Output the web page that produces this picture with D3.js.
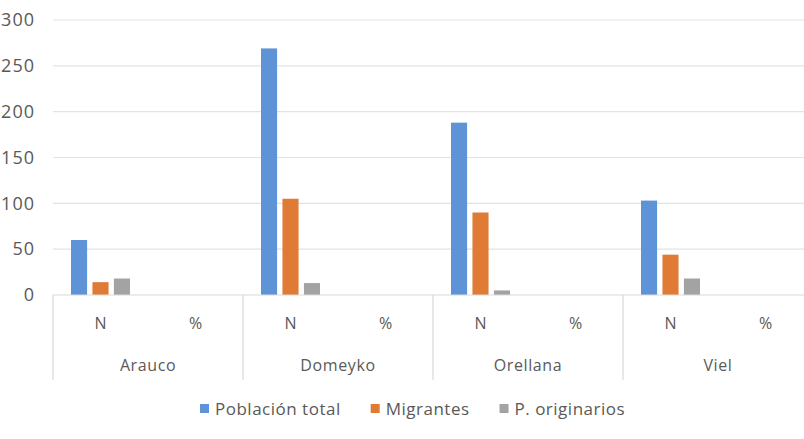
<!DOCTYPE html>
<html>
<head>
<meta charset="utf-8">
<script src="https://cdn.jsdelivr.net/npm/d3@7"></script>
<style>
  body { margin: 0; background: #fff; }
  svg text { font-family: "Open Sans", sans-serif; fill: #595959; }
</style>
</head>
<body>
<svg id="chart" width="804" height="439"></svg>
<script>
// Data
var comunas = ['Arauco', 'Domeyko', 'Orellana', 'Viel'];
var medidas = ['N', '%'];
var series = ['Población total', 'Migrantes', 'P. originarios'];
var colores = ['#5f93d8', '#e07b35', '#a3a3a3'];
var poblacionN = [60, 269, 188, 103];
var migrantesN = [14, 105, 90, 44];
var originariosN = [18, 13, 5, 18];
var yTicks = [0, 50, 100, 150, 200, 250, 300];

var svg = d3.select('#chart');
var plotLeft = 53, plotRight = 813, plotTop = 20, plotBottom = 295;

// one row per comuna / medida; % values are not visible in the chart
var rows = [];
comunas.forEach(function (c, i) {
  medidas.forEach(function (m) {
    rows.push({
      comuna: c,
      medida: m,
      key: c + '|' + m,
      values: m === 'N' ? [poblacionN[i], migrantesN[i], originariosN[i]] : [null, null, null]
    });
  });
});

var y = d3.scaleLinear().domain([0, 300]).range([plotBottom, plotTop]);
var x0 = d3.scaleBand().domain(comunas).range([plotLeft, plotRight]);
var x1 = d3.scaleBand().domain(rows.map(function (r) { return r.key; })).range([plotLeft, plotRight]);
var x2 = d3.scaleBand().domain(series).range([18, x1.bandwidth() - 18]).paddingInner(0.25);

// gridlines
svg.append('g').selectAll('line')
  .data(yTicks.filter(function (t) { return t > 0; }))
  .enter().append('line')
  .attr('x1', plotLeft).attr('x2', plotRight)
  .attr('y1', function (d) { return y(d); }).attr('y2', function (d) { return y(d); })
  .attr('stroke', '#e3e3e3').attr('stroke-width', 1.2);

// y labels (the picture is cropped on the left, hundreds digit cut)
svg.append('g').selectAll('text')
  .data(yTicks)
  .enter().append('text')
  .attr('x', 35)
  .attr('y', function (d) { return y(d); })
  .attr('dy', '0.35em')
  .attr('text-anchor', 'end')
  .style('font-size', '18px')
  .style('letter-spacing', '1px')
  .text(function (d) { return d; });

// bars
var grupos = svg.append('g').selectAll('g')
  .data(rows)
  .enter().append('g')
  .attr('transform', function (d) { return 'translate(' + x1(d.key) + ',0)'; });

grupos.selectAll('rect')
  .data(function (d) {
    return d.values.map(function (v, i) { return { serie: series[i], value: v, color: colores[i] }; })
      .filter(function (e) { return e.value != null; });
  })
  .enter().append('rect')
  .attr('x', function (d) { return x2(d.serie); })
  .attr('width', x2.bandwidth())
  .attr('y', function (d) { return y(d.value); })
  .attr('height', function (d) { return y(0) - y(d.value); })
  .attr('fill', function (d) { return d.color; });

// axis baseline and category dividers
svg.append('line')
  .attr('x1', plotLeft).attr('x2', plotRight).attr('y1', plotBottom).attr('y2', plotBottom)
  .attr('stroke', '#d9d9d9').attr('stroke-width', 1.2);

svg.append('g').selectAll('line')
  .data(comunas)
  .enter().append('line')
  .attr('x1', function (d) { return x0(d); }).attr('x2', function (d) { return x0(d); })
  .attr('y1', plotBottom).attr('y2', 380)
  .attr('stroke', '#d9d9d9').attr('stroke-width', 1.2);

svg.append('g').selectAll('text')
  .data(rows)
  .enter().append('text')
  .attr('x', function (d) { return x1(d.key) + x1.bandwidth() / 2; })
  .attr('y', 323)
  .attr('dy', '0.35em')
  .attr('text-anchor', 'middle')
  .style('font-size', '16px')
  .text(function (d) { return d.medida; });

svg.append('g').selectAll('text')
  .data(comunas)
  .enter().append('text')
  .attr('x', function (d) { return x0(d) + x0.bandwidth() / 2; })
  .attr('y', 365)
  .attr('dy', '0.35em')
  .attr('text-anchor', 'middle')
  .style('font-size', '16px')
  .style('letter-spacing', '0.6px')
  .text(function (d) { return d; });

// legend
var legend = svg.append('g');
var lx = 200;
series.forEach(function (s, i) {
  legend.append('rect')
    .attr('x', lx).attr('y', 404).attr('width', 9).attr('height', 9)
    .attr('fill', colores[i]);
  var t = legend.append('text')
    .attr('x', lx + 15).attr('y', 409)
    .attr('dy', '0.35em')
    .style('font-size', '17px')
    .style('letter-spacing', '0.5px')
    .text(s);
  lx += 15 + t.node().getComputedTextLength() + 30;
});
</script>
</body>
</html>
